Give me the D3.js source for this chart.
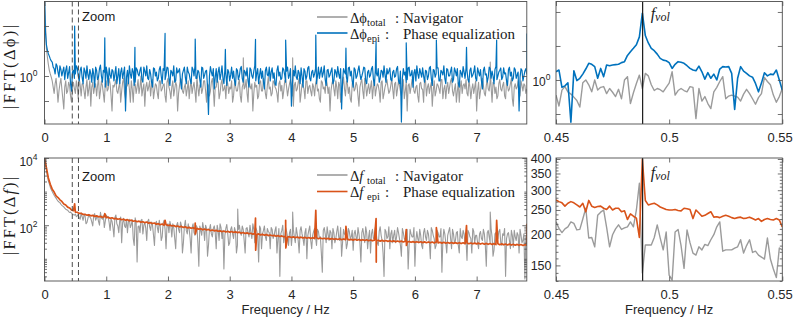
<!DOCTYPE html>
<html><head><meta charset="utf-8">
<script src="https://cdn.jsdelivr.net/npm/d3@7/dist/d3.min.js"></script>
<style>
html,body{margin:0;padding:0;background:#fff;}
svg{display:block;}
</style></head><body>
<svg id="chart" width="793" height="319"></svg>
<script>
// ---------------- DATA ----------------
// wide-spectrum frequency grid: 0 .. 7.8125 Hz, step 1/32 Hz (251 bins) + half-bin values (250)
const wideStart = 0, wideStep = 0.03125;
const xTicksWide = [0, 1, 2, 3, 4, 5, 6, 7];
const xTicksZoom = [0.45, 0.5, 0.55];
const fVol = 0.48828;

// |FFT(Δφ_total)| Navigator (grey), top-left
const phiNav = [
35,3.5,1.7,1.1,0.8,0.45,0.9,0.3,0.7,0.55,0.22,0.8,0.5,0.65,0.3,0.75,0.45,0.6,0.9,0.4,
0.7,0.35,0.85,0.55,0.25,0.75,0.6,0.4,0.95,0.5,0.65,0.3,0.8,0.55,0.7,0.2,0.6,0.85,0.45,0.75,
0.5,0.9,0.35,0.65,0.55,0.8,0.3,0.7,0.6,0.45,1.0,0.55,0.25,0.75,0.6,0.4,0.85,0.5,0.65,0.35,
0.8,0.55,0.7,0.3,0.9,0.5,0.6,0.4,0.75,0.2,0.65,0.85,0.45,0.7,0.55,0.35,0.8,0.6,0.5,0.95,
0.4,0.7,0.55,0.8,0.3,0.65,0.5,0.9,0.25,0.6,0.75,0.45,0.85,0.55,0.35,0.7,0.6,0.8,0.4,0.65,
0.5,0.85,0.3,0.7,0.6,0.45,0.9,0.55,0.2,0.75,0.65,0.4,0.8,0.5,0.7,0.35,0.95,0.6,0.45,0.75,
0.55,0.3,0.8,0.65,0.5,0.85,0.4,0.7,0.6,0.25,0.75,0.55,0.9,0.45,0.65,0.35,0.8,0.6,0.5,0.7,
0.4,0.85,0.55,0.3,0.75,0.6,0.9,0.45,0.2,0.7,0.55,0.8,0.35,0.65,0.5,0.95,0.4,0.7,0.6,0.3,
0.8,0.55,0.65,0.25,0.75,0.5,0.9,0.4,0.7,0.6,0.35,0.85,0.55,0.65,0.3,0.8,0.45,0.7,0.6,0.5,
0.9,0.35,0.75,0.55,0.65,0.4,0.85,0.5,0.2,0.7,0.6,0.8,0.45,0.65,0.3,0.75,0.55,0.9,0.4,0.7,
0.6,0.25,0.8,0.5,0.65,0.45,0.85,0.55,0.35,0.75,0.6,0.9,0.4,0.7,0.5,0.3,0.8,0.65,0.55,0.45,
0.85,0.35,0.7,0.6,0.2,0.75,0.5,0.9,0.45,0.65,0.55,0.8,0.3,0.7,0.6,0.4,0.85,0.5,0.75,0.35,
0.65,0.55,0.9,0.25,0.7,0.6,0.45,0.8,0.5,0.65,0.55
];
const phiNavMid = [
12,2.4,1.3,0.95,0.6,0.7,0.55,0.5,0.9,0.35,0.6,0.45,0.75,0.4,0.6,0.55,0.8,0.35,0.65,0.7,
0.5,0.6,0.4,0.8,0.6,0.45,0.7,0.65,0.35,0.8,0.45,0.7,0.5,0.9,0.4,0.65,0.7,0.5,0.6,0.3,
0.75,0.45,0.6,0.85,0.3,0.55,0.7,0.45,0.85,0.6,0.4,0.7,0.6,0.5,0.8,0.65,0.35,0.7,0.45,0.8,
0.5,0.65,0.4,0.75,0.6,0.35,0.8,0.55,0.65,0.45,0.9,0.5,0.6,0.4,0.8,0.6,0.45,0.75,0.3,0.6,
0.65,0.45,0.8,0.5,0.7,0.4,0.75,0.55,0.6,0.85,0.35,0.7,0.5,0.65,0.8,0.45,0.55,0.3,0.75,0.5,
0.7,0.4,0.6,0.55,0.85,0.3,0.65,0.7,0.45,0.6,0.35,0.75,0.5,0.9,0.45,0.65,0.55,0.4,0.8,0.6,
0.45,0.7,0.5,0.35,0.8,0.6,0.55,0.85,0.4,0.65,0.5,0.75,0.3,0.7,0.55,0.8,0.45,0.65,0.4,0.6,
0.7,0.5,0.35,0.8,0.55,0.45,0.7,0.6,0.5,0.85,0.4,0.6,0.75,0.3,0.65,0.55,0.8,0.45,0.35,0.7,
0.5,0.75,0.4,0.6,0.85,0.35,0.65,0.55,0.45,0.8,0.6,0.4,0.7,0.5,0.75,0.35,0.6,0.85,0.45,0.65,
0.55,0.7,0.4,0.8,0.5,0.6,0.35,0.75,0.65,0.45,0.85,0.5,0.6,0.4,0.7,0.55,0.3,0.8,0.6,0.45,
0.75,0.5,0.4,0.7,0.55,0.85,0.35,0.65,0.6,0.45,0.8,0.5,0.55,0.3,0.75,0.6,0.45,0.7,0.85,0.4,
0.6,0.55,0.45,0.8,0.5,0.35,0.7,0.65,0.4,0.85,0.5,0.6,0.75,0.45,0.35,0.7,0.55,0.65,0.4,0.8,
0.5,0.7,0.35,0.6,0.55,0.8,0.4,0.65,0.7,0.45
];
// |FFT(Δφ_epi)| Phase equalization (blue), top-left
const phiEpi = [
40,4.2,2.8,2.2,1.9,1.4,1.75,1.2,1.6,1.0,1.5,1.3,0.9,1.55,0.5,1.3,1.1,1.45,0.8,1.5,
0.7,1.25,1.6,0.85,1.1,1.4,0.6,1.3,0.95,1.65,0.75,1.2,1.5,0.65,1.05,1.35,0.8,1.55,1.0,0.7,
1.45,1.15,0.2,1.3,1.6,0.9,1.2,0.75,1.35,1.0,1.5,0.75,1.25,1.6,0.85,1.1,0.6,1.4,1.2,0.9,
1.55,0.7,1.3,1.05,1.45,0.65,1.2,1.6,0.8,1.15,1.4,0.55,1.3,0.95,1.5,1.1,0.7,1.35,1.6,0.9,
1.2,0.6,1.45,1.05,1.3,0.17,1.55,1.0,0.55,1.4,1.2,0.85,1.6,0.7,1.1,1.35,0.8,1.5,1.25,0.65,
1.3,1.0,1.55,0.75,1.2,1.45,0.6,1.35,0.9,1.6,1.1,0.7,1.4,1.25,0.55,1.5,1.0,0.8,1.45,1.15,
0.65,1.6,1.2,0.9,1.35,0.75,1.5,1.05,0.25,1.3,1.6,0.85,1.15,1.45,0.6,1.25,1.0,1.55,0.8,1.3,
1.1,0.7,1.5,1.2,0.95,1.6,0.65,1.35,1.05,1.45,0.8,1.2,1.55,0.9,0.22,1.4,1.1,0.75,1.5,1.25,
0.6,1.35,1.0,1.6,0.85,1.2,1.45,0.7,1.3,1.05,1.55,0.65,1.15,1.4,0.9,1.25,1.6,0.75,1.1,1.45,
0.8,1.3,1.0,1.55,0.7,0.12,1.4,1.2,0.85,1.5,1.05,0.6,1.35,1.6,0.9,1.15,1.45,0.75,1.25,1.0,
1.55,0.65,1.3,1.1,1.45,0.8,1.2,1.6,0.7,1.35,1.0,1.5,0.85,1.25,1.4,0.6,1.15,1.55,0.9,1.3,
0.75,1.45,1.05,1.6,0.8,1.2,1.35,0.55,1.5,1.1,0.95,1.4,1.25,0.7,1.55,1.0,1.3,0.85,1.45,1.15,
0.65,1.5,1.2,0.9,1.35,1.05,0.2,1.4,0.8,1.25,1.1
];
const phiEpiMid = [
7.5,3.3,2.5,2.0,1.5,1.1,1.6,0.95,1.35,1.25,0.85,1.6,1.15,0.7,1.2,0.9,1.6,1.0,1.3,0.95,
1.45,0.9,1.05,1.35,0.75,1.1,1.5,0.85,1.4,1.0,1.3,0.6,1.15,1.45,0.9,1.25,1.1,0.7,1.4,1.2,
0.9,1.5,0.95,0.7,1.1,1.4,0.65,1.45,1.1,1.3,0.85,1.5,1.0,0.9,1.35,0.75,1.45,1.0,0.8,1.35,
1.0,1.4,0.85,1.5,0.9,1.3,1.0,0.75,1.45,1.25,0.8,1.1,1.5,0.7,1.2,0.85,1.5,1.0,0.9,1.3,
0.85,1.5,0.9,1.25,0.6,1.0,1.2,1.4,0.95,0.75,1.5,1.1,0.9,1.35,0.65,1.2,1.05,0.9,0.8,1.4,
0.85,1.4,0.9,1.3,1.0,0.8,1.45,1.0,1.25,0.8,1.4,1.05,0.9,0.75,1.3,1.05,1.5,1.2,0.9,0.7,
1.3,1.0,0.85,1.45,1.05,1.25,0.9,1.4,0.7,1.0,0.95,1.3,0.7,1.0,1.4,0.85,1.45,0.9,1.2,0.95,
1.4,1.0,0.9,1.5,1.15,0.85,1.3,0.95,1.25,0.7,1.35,0.95,1.1,1.4,0.8,1.2,0.95,1.45,1.0,0.8,
1.45,0.9,1.3,1.1,1.0,1.5,0.8,1.2,0.95,1.4,0.85,1.35,1.0,0.75,1.3,0.95,1.05,1.4,1.25,0.85,
1.2,0.95,1.4,0.8,1.25,0.9,1.05,0.75,1.45,1.0,1.3,1.15,0.8,1.1,1.4,0.95,1.0,1.3,0.85,1.45,
0.9,1.35,0.95,1.45,0.8,1.3,1.05,0.9,1.4,1.0,1.25,0.75,1.45,1.0,0.7,1.3,0.95,1.2,1.45,0.85,
1.3,0.95,1.2,0.9,1.45,1.0,0.8,1.3,1.05,0.75,1.5,0.9,1.0,1.35,0.85,1.2,1.45,0.95,1.1,0.8,
1.35,1.0,0.8,1.45,0.9,1.2,0.95,1.3,1.0,1.4
];
// |FFT(Δf_total)| Navigator (grey), bottom-left
const fNav = [
9000,4200,2100,1350,1000,780,640,520,470,390,350,300,280,240,230,205,215,
190,165,230,140,195,120,210,160,95,220,170,130,240,150,85,200,
180,70,130,45,200,95,140,30,160,85,
60,150,105,40,165,8,95,140,55,120,35,
150,70,100,25,130,60,90,45,140,20,110,
130,45,85,20,120,60,95,30,140,55,75,
15,110,50,90,6,70,120,35,80,25,105,
45,95,20,70,110,40,5,80,55,30,
90,40,65,25,100,50,75,15,85,45,
60,110,30,70,8,80,55,95,35,65,
20,75,50,90,40,3,70,30,85,45,60,25,
75,30,55,15,90,40,60,10,70,35,50,80,
25,65,45,4,85,30,55,70,20,60,
40,95,35,12,75,50,28,65,45,18,
70,35,55,8,80,30,60,45,15,75,
40,55,25,90,35,3,65,45,20,70,
50,30,85,40,12,60,35,75,25,55,45,6,
65,30,50,20,80,35,55,10,70,40,
25,60,45,4,75,30,50,85,20,55,
35,65,15,45,70,28,9,60,40,80,30,50,
20,65,35,55,6,70,30,45,18,60,
40,75,25,50,3,55,35,70,22,45,
60,15,50,35,2.5,40
];
const fNavMid = [
6000,2900,1700,1150,880,700,570,490,420,370,320,290,255,245,215,200,180,
210,150,180,200,110,160,175,125,195,140,185,100,165,200,130,175,
120,155,85,170,110,60,175,120,95,150,
130,85,145,25,120,90,60,150,100,80,130,
90,125,50,110,85,140,35,115,75,100,60,
95,110,40,100,75,125,15,90,70,110,40,
85,60,100,30,95,50,80,100,12,75,55,
80,60,100,35,85,70,50,105,25,75,
55,85,15,75,60,95,35,80,60,100,
40,75,85,50,95,20,70,45,80,60,
85,40,70,15,80,55,100,45,65,25,75,55,
45,85,35,70,55,25,80,50,95,20,65,45,
75,40,15,70,55,90,35,60,80,30,
65,45,85,30,55,20,80,40,70,55,
45,85,30,60,50,90,20,70,55,40,
85,30,65,50,15,75,40,90,55,30,
70,45,60,25,80,40,65,5,75,45,85,35,
40,75,25,60,45,70,30,85,50,20,
70,45,80,35,55,15,65,40,75,30,
60,25,80,40,55,35,70,45,15,65,50,30,
55,40,75,25,60,45,80,12,55,35,
65,30,55,80,40,60,20,50,70,35,
50,75,30,55,45
];
// |FFT(Δf_epi)| Phase equalization (orange), bottom-left
const fEpi = [
10000,5100,2550,1650,1180,970,745,665,570,510,430,398,345,326,283,270,246,243,224,226,209,211,199,204,190,196,183,190,177,183,172,178,168,
172,160,166,155,160,150,155,146,150,140,146,135,141,131,136,127,132,123,127,119,124,115,119,112,116,107,111,103,108,100,104,98,
101,95,98,91,95,89,92,86,90,83,86,81,84,78,81,76,79,73,77,72,75,69,72,68,70,66,68,64,67,63,66,62,
65,61,63.5,60,62,58,60.5,56.5,59,55.5,57.5,54,56,52.5,55,51.5,53.5,50.5,52.5,49,51,48.5,50,47,49,46,48,45,47,44,45.5,43,
45,42.5,44.5,42,44,41.5,43.5,41,43,40.5,42.5,40,42,39.5,41.5,39.5,41,39,40.5,38.5,40,38,39.5,37.5,39.5,37,39,37,38.5,36.5,38,36,
38,35.8,37.5,35.3,37,35,36.7,34.6,36.3,34.3,36,33.9,35.6,33.6,35.3,33.2,34.9,33,34.6,32.6,34.2,32.3,33.8,32,33.5,31.7,33.2,31.3,32.8,31,32.5,30.8,
32.3,30.5,32,30.3,31.9,30.1,31.7,29.9,31.5,29.7,31.3,29.5,31.1,29.3,30.9,29.1,30.7,28.9,30.5,28.8,30.3,28.6,30.1,28.4,29.9,28.2,29.7,28,29.4,27.9,29.3,27.8,
29.2,27.5,28.9,27.2,28.7,27,28.5,26.8,28.2,26.5,28,26.3,27.8,26.1,27.5,25.8,27.3,25.6,27,25.4,26.8,25.2,26.6,25,26.3,25.2
];

// harmonics of the volume rate (spikes)
const harmonicFreqs = [0.4883,0.9766,1.4648,1.9531,2.4414,2.9297,3.4180,3.9063,4.3945,4.8828,5.3711,5.8594,6.3477,6.8359,7.3242,7.8125];
const phiEpiSpikeHi = [10,5.8,3.75,7.1,5.5,3.4,5.4,5.25,6.6,3.6,4.9,4.6,5.25,3.75,5.25,7.1];
const fEpiSpikeHi = [430,221,null,140,116,null,164,140,277,93,157,74,85,97,140,110];
const fEpiSpikeLo = [null,null,null,null,55,null,18,21,null,null,8,25,null,null,null,null];
// isolated navigator spikes
const phiNavSpikeFreqs = [3.22,4.02,7.22];
const phiNavSpikeHi = [2.3,2.3,1.9];
const fNavSpikeFreqs = [3.13,4.02,7.22];
const fNavSpikeHi = [300,245,245];

// zoom panels: 0.45 .. 0.55 Hz, 77 bins
const zoomStart = 0.45, zoomStep = 0.1/76;
const phiNavZoom = [0.60,0.415,0.71,0.80,0.67,0.62,0.56,0.50,0.40,0.91,1.0,0.85,0.67,1.0,0.71,0.78,0.80,0.63,0.75,0.66,
0.57,0.73,0.53,1.0,1.12,0.45,0.65,0.89,1.18,0.75,1.25,1.15,0.85,0.70,0.75,0.72,0.67,0.78,0.9,1.32,
0.60,0.70,0.75,0.70,0.67,0.80,0.78,0.27,0.75,0.49,0.57,0.45,0.38,0.67,0.78,0.95,1.12,0.53,0.58,0.60,
0.58,0.56,0.49,0.62,0.73,0.63,0.53,0.44,0.55,0.63,1.09,0.95,0.85,0.60,0.47,0.57,0.75];
const phiEpiZoom = [1.32,1.40,0.78,0.82,0.91,0.24,1.37,0.98,1.06,1.22,1.45,1.76,1.70,1.57,1.06,1.48,1.12,1.66,1.62,1.66,
1.68,1.70,1.80,1.86,2.3,2.6,2.92,3.3,4.3,9.6,4.5,3.5,2.92,2.7,2.4,2.08,1.96,1.92,1.80,1.48,
1.70,1.86,1.82,1.76,1.62,1.48,1.40,1.37,1.6,1.32,1.03,1.28,1.06,1.22,1.0,1.45,1.57,1.55,1.57,1.25,
0.37,1.06,1.57,1.35,1.25,1.15,1.1,0.89,0.67,0.9,1.28,1.15,1.22,1.2,1.4,1.0,0.71];
const fNavZoom = [224,211,203,210,214,224,221,208,209,230,254,193,194,178,238,245,250,213,178,199,
210,218,209,212,214,224,214,250,320,140,181,181,181,194,218,193,173,204,137,131,
204,209,180,146,208,185,168,165,178,173,182,180,190,199,214,224,171,173,173,173,
176,178,190,168,180,190,169,171,165,162,159,193,159,145,134,176,173];
const fEpiZoom = [274,270,267,259,266,270,267,262,257,266,246,273,259,256,258,259,254,251,259,250,
254,254,246,248,229,241,236,232,194,400,273,262,264,266,262,257,254,251,250,250,
251,249,248,254,253,251,231,250,243,236,238,242,246,234,235,233,236,238,236,233,
231,233,234,231,232,234,231,228,231,225,229,231,229,228,231,228,214];

// ---------------- DRAWING ----------------
const C = {grey:'#9b9b9b', blue:'#0072BD', orange:'#D95319', frame:'#4d4d4d'};
const SANS = '"Liberation Sans", Arial, Helvetica, sans-serif';
const SERIF = '"Liberation Serif", "Times New Roman", "DejaVu Serif", serif';
const svg = d3.select('#chart');
const defs = svg.append('defs');

const L = {xl0:44.5, xl1:526.8, xr0:556, xr1:782.3, t0:1.5, t1:124, b0:158, b1:281};

const xWide = d3.scaleLinear().domain([0, 7.8125]).range([L.xl0, L.xl1]);
const xZoom = d3.scaleLinear().domain([0.45, 0.55]).range([L.xr0, L.xr1]);
const yTL = d3.scaleLog().domain([Math.pow(10,-0.96), Math.pow(10,1.49)]).range([L.t1, L.t0]);
const yTR = d3.scaleLog().domain([Math.pow(10,-0.647), Math.pow(10,1.154)]).range([L.t1, L.t0]);
const yBL = d3.scaleLog().domain([Math.pow(10,0.339), 1e4]).range([L.b1, L.b0]);
const yBR = d3.scaleLog().domain([129.9, 403.7]).range([L.b1, L.b0]);

function gridPoints(vals, start, step, offset){
  const o = offset || 0;
  return vals.map((v,i)=>({f:start+(i+o)*step, v:v}));
}
function wideSeries(vals, mids){
  const pts = gridPoints(vals, wideStart, wideStep, 0);
  return mids ? pts.concat(gridPoints(mids, wideStart, wideStep, 0.5)) : pts;
}
function withSpikes(pts, freqs, hi, lo){
  const out = pts.slice();
  freqs.forEach((f,k)=>{
    if(hi && hi[k]!=null) out.push({f:f, v:hi[k], s:1});
    if(lo && lo[k]!=null) out.push({f:f+0.003, v:lo[k], s:1});
  });
  return out.sort((a,b)=>(a.f-b.f) || ((a.s||0)-(b.s||0)));
}
function panelGroup(id, x0,x1,y0,y1){
  defs.append('clipPath').attr('id','cp-'+id).append('rect')
    .attr('x',x0).attr('y',y0).attr('width',x1-x0).attr('height',y1-y0);
  return svg.append('g').attr('clip-path','url(#cp-'+id+')');
}
function drawLine(g, data, xS, yS, color, w){
  g.append('path').datum(data).attr('fill','none').attr('stroke',color)
    .attr('stroke-width',w).attr('stroke-linejoin','round')
    .attr('d', d3.line().x(d=>xS(d.f)).y(d=>yS(d.v)));
}
function frame(x0,x1,y0,y1){
  svg.append('rect').attr('x',x0).attr('y',y0).attr('width',x1-x0).attr('height',y1-y0)
    .attr('fill','none').attr('stroke',C.frame).attr('stroke-width',0.9);
}
function styleAxis(g, fs){
  g.select('.domain').remove();
  g.selectAll('line').attr('stroke',C.frame).attr('stroke-width',0.8);
  g.selectAll('text').attr('font-size',fs).attr('font-family',SANS).attr('fill','#262626');
}
function xAxes(xS, ticks, y0, y1, fmt){
  const gb = svg.append('g').attr('transform',`translate(0,${y1})`)
    .call(d3.axisBottom(xS).tickValues(ticks).tickSizeInner(-4.5).tickSizeOuter(0).tickPadding(8.5).tickFormat(fmt));
  const gt = svg.append('g').attr('transform',`translate(0,${y0})`)
    .call(d3.axisTop(xS).tickValues(ticks).tickSizeInner(-4.5).tickSizeOuter(0).tickFormat(''));
  styleAxis(gb, 13); styleAxis(gt, 13);
  return gb;
}
function yTicks(yS, ticks, x0, x1, len){
  const gl = svg.append('g').attr('transform',`translate(${x0},0)`)
    .call(d3.axisLeft(yS).tickValues(ticks).tickSizeInner(-len).tickSizeOuter(0).tickFormat(''));
  const gr = svg.append('g').attr('transform',`translate(${x1},0)`)
    .call(d3.axisRight(yS).tickValues(ticks).tickSizeInner(-len).tickSizeOuter(0).tickFormat(''));
  styleAxis(gl, 11); styleAxis(gr, 11);
}
function powLabel(x, y, exp){
  const t = svg.append('text').attr('x',x).attr('y',y).attr('text-anchor','end')
    .attr('font-family',SANS).attr('font-size',12).attr('fill','#262626');
  t.append('tspan').text('10');
  t.append('tspan').attr('dy',-6).attr('font-size',8.5).text(exp);
}

// ---- top-left ----
const gTL = panelGroup('tl', L.xl0, L.xl1, L.t0, L.t1);
drawLine(gTL, withSpikes(wideSeries(phiNav, phiNavMid), phiNavSpikeFreqs, phiNavSpikeHi), xWide, yTL, C.grey, 1.1);
drawLine(gTL, withSpikes(wideSeries(phiEpi, phiEpiMid), harmonicFreqs, phiEpiSpikeHi), xWide, yTL, C.blue, 1.2);
// ---- bottom-left ----
const gBL = panelGroup('bl', L.xl0, L.xl1, L.b0, L.b1);
drawLine(gBL, withSpikes(wideSeries(fNav, fNavMid), fNavSpikeFreqs, fNavSpikeHi), xWide, yBL, C.grey, 1.1);
drawLine(gBL, withSpikes(wideSeries(fEpi), harmonicFreqs, fEpiSpikeHi, fEpiSpikeLo), xWide, yBL, C.orange, 1.7);
// ---- top-right ----
const gTR = panelGroup('tr', L.xr0, L.xr1, L.t0, L.t1);
drawLine(gTR, gridPoints(phiNavZoom, zoomStart, zoomStep), xZoom, yTR, C.grey, 1.4);
drawLine(gTR, gridPoints(phiEpiZoom, zoomStart, zoomStep), xZoom, yTR, C.blue, 1.6);
// ---- bottom-right ----
const gBR = panelGroup('br', L.xr0, L.xr1, L.b0, L.b1);
drawLine(gBR, gridPoints(fNavZoom, zoomStart, zoomStep), xZoom, yBR, C.grey, 1.4);
drawLine(gBR, gridPoints(fEpiZoom, zoomStart, zoomStep), xZoom, yBR, C.orange, 1.6);

// f_vol lines
[[gTR, L.t0, L.t1],[gBR, L.b0, L.b1]].forEach(([g,y0,y1])=>{
  g.append('line').attr('x1',xZoom(fVol)).attr('x2',xZoom(fVol)).attr('y1',y0).attr('y2',y1)
    .attr('stroke','#1a1a1a').attr('stroke-width',1.2);
});
// zoom-window dashed lines
[[L.t0,L.t1],[L.b0,L.b1]].forEach(([y0,y1])=>{
  [0.45,0.55].forEach(f=>{
    svg.append('line').attr('x1',xWide(f)).attr('x2',xWide(f)).attr('y1',y0).attr('y2',y1)
      .attr('stroke','#4d4d4d').attr('stroke-width',1).attr('stroke-dasharray','5,3');
  });
});

// frames
frame(L.xl0, L.xl1, L.t0, L.t1);
frame(L.xr0, L.xr1, L.t0, L.t1);
frame(L.xl0, L.xl1, L.b0, L.b1);
frame(L.xr0, L.xr1, L.b0, L.b1);

// x axes
xAxes(xWide, xTicksWide, L.t0, L.t1, d3.format('d'));
xAxes(xWide, xTicksWide, L.b0, L.b1, d3.format('d'));
const fmtZoom = d=> d===0.5 ? '0.5' : d.toFixed(2);
[xAxes(xZoom, xTicksZoom, L.t0, L.t1, fmtZoom), xAxes(xZoom, xTicksZoom, L.b0, L.b1, fmtZoom)].forEach(g=>{
  // keep the last label inside the window, as in the reference
  g.selectAll('.tick text').filter(d=>d===0.55).attr('text-anchor','end').attr('x',10);
});

// y ticks
const halfDecTicks = [-0.5,0,0.5,1].map(e=>Math.pow(10,e));
yTicks(yTL, halfDecTicks, L.xl0, L.xl1, 4.5);
yTicks(yTR, halfDecTicks, L.xr0, L.xr1, 4.5);
const blMajor = [1e2, 1e4];
const blMinor = [];
[1,10,100,1000].forEach(d=>{ for(let k=1;k<=9;k++){ const v=k*d; if(v>=Math.pow(10,0.339) && v<1e4 && v!==100) blMinor.push(v);} });
yTicks(yBL, blMajor, L.xl0, L.xl1, 4.5);
yTicks(yBL, blMinor, L.xl0, L.xl1, 2.5);
const brMajor = [150,200,250,300,350,400];
const brMinor = d3.range(130, 401, 10).filter(v=>v%50!==0);
yTicks(yBR, brMajor, L.xr0, L.xr1, 4.5);
yTicks(yBR, brMinor, L.xr0, L.xr1, 2.5);

// y tick labels
powLabel(37.5, yTL(1)+6, '0');
powLabel(550.5, yTR(1)+6, '0');
powLabel(37.5, yBL(1e4)+7.5, '4');
powLabel(37.5, yBL(1e2)+7.5, '2');
brMajor.forEach(v=>{
  svg.append('text').attr('x',551.5).attr('y',yBR(v)).attr('dy','0.35em').attr('text-anchor','end')
    .attr('font-family',SANS).attr('font-size',12.5).attr('fill','#262626').text(v);
});

// axis titles
svg.append('text').attr('transform','translate(15,67) rotate(-90)').attr('text-anchor','middle')
  .attr('font-family',SERIF).attr('font-size',16.5).attr('fill','#1a1a1a')
  .attr('textLength',84).attr('lengthAdjust','spacing').text('|FFT(\u0394\u03D5)|');
svg.append('text').attr('transform','translate(15,216) rotate(-90)').attr('text-anchor','middle')
  .attr('font-family',SERIF).attr('font-size',16.5).attr('fill','#1a1a1a')
  .attr('textLength',78).attr('lengthAdjust','spacing').html('|FFT(\u0394<tspan font-style="italic">f</tspan>)|');
[[(L.xl0+L.xl1)/2],[ (L.xr0+L.xr1)/2 ]].forEach(([cx])=>{
  svg.append('text').attr('x',cx).attr('y',314).attr('text-anchor','middle')
    .attr('font-family',SANS).attr('font-size',13).attr('fill','#262626').text('Frequency / Hz');
});

// "Zoom" labels
[20.7, 180.5].forEach(y=>{
  svg.append('text').attr('x',82).attr('y',y).attr('font-family',SANS).attr('font-size',13)
    .attr('fill','#1a1a1a').text('Zoom');
});
// f_vol labels
[[18.5],[178]].forEach(([y])=>{
  const t = svg.append('text').attr('x',xZoom(fVol)+8).attr('y',y).attr('font-family',SERIF)
    .attr('font-style','italic').attr('font-size',16).attr('fill','#1a1a1a');
  t.append('tspan').text('f');
  t.append('tspan').attr('font-size',12).attr('dy',2).text('vol');
});

// legends
function legend(y1, y2, sym, colorEpi){
  [[y1, C.grey, 'total', ':', 395, 'Navigator'],[y2, colorEpi, 'epi', ':', 385, 'Phase equalization']].forEach(r=>{
    const [y,col,sub,colon,cx,label] = r;
    svg.append('line').attr('x1',317).attr('x2',347.5).attr('y1',y).attr('y2',y).attr('stroke',col).attr('stroke-width',1.6);
    const t = svg.append('text').attr('x',350).attr('y',y+5.5).attr('font-family',SERIF).attr('font-size',14.5).attr('fill','#1a1a1a');
    t.append('tspan').text('\u0394');
    if(sym==='f') t.append('tspan').attr('font-style','italic').text('f');
    else t.append('tspan').text('\u03D5');
    svg.append('text').attr('x',367).attr('y',y+8.5).attr('font-family',SERIF).attr('font-size',10.5).attr('fill','#1a1a1a').text(sub);
    svg.append('text').attr('x',cx).attr('y',y+5.5).attr('font-family',SERIF).attr('font-size',15).attr('fill','#1a1a1a').text(colon);
    svg.append('text').attr('x',403).attr('y',y+5.5).attr('font-family',SERIF).attr('font-size',15).attr('fill','#1a1a1a').text(label);
  });
}
legend(17, 33, 'phi', C.blue);
legend(175, 191.5, 'f', C.orange);
</script>
</body></html>
